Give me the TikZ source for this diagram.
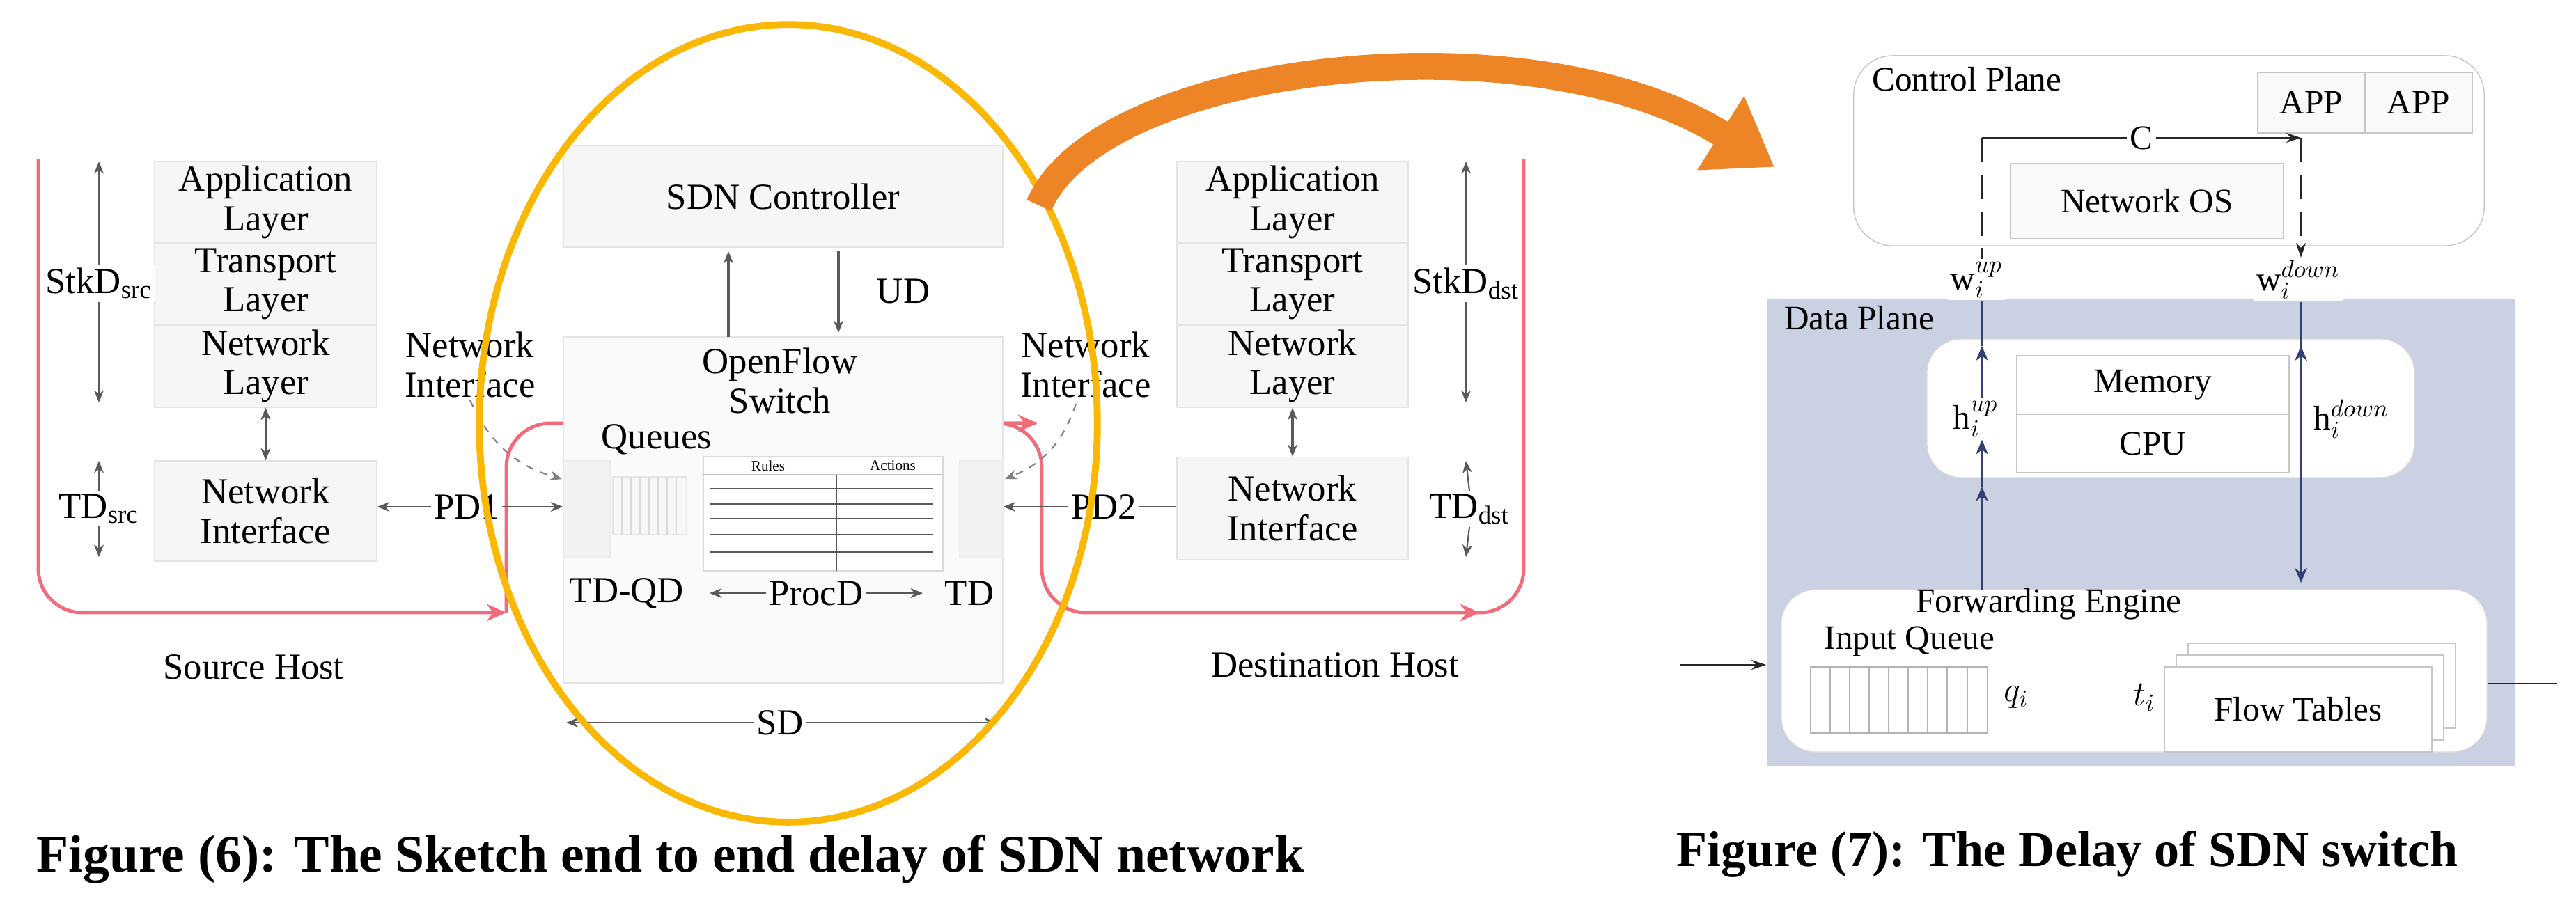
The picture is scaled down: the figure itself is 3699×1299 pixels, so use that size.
\documentclass[tikz,border=0pt]{standalone}
\usepackage{fontspec}
\setmainfont{Liberation Serif}
\usetikzlibrary{arrows.meta,shapes.geometric}
\definecolor{redc}{rgb}{0.95,0.42,0.48}
\definecolor{yelc}{rgb}{0.98,0.72,0.02}
\definecolor{orc}{rgb}{0.93,0.52,0.15}
\definecolor{dpc}{RGB}{201,209,226}
\definecolor{navc}{rgb}{0.2,0.25,0.45}
\newcommand\dfnt{\fontsize{15}{16}\selectfont}
\newcommand\rfnt{\fontsize{14}{15}\selectfont}
\newcommand\cfnt{\fontsize{21.5}{23}\selectfont\bfseries}
\newcommand\cfntb{\fontsize{20.5}{22}\selectfont\bfseries}
\begin{document}
\begin{tikzpicture}[x=0.01cm,y=-0.01cm,
  lbox/.style={draw=gray!22,fill=gray!7,inner sep=0,align=center,font=\dfnt},
  lab/.style={inner sep=1pt,align=center,font=\dfnt},
  rlab/.style={inner sep=1pt,align=center,font=\rfnt},
  ga/.style={draw=gray!70!black,line width=0.6pt,-{Stealth[length=5pt,width=4pt]}},
  gaa/.style={draw=gray!70!black,line width=0.6pt,{Stealth[length=5pt,width=4pt]}-{Stealth[length=5pt,width=4pt]}},
  red/.style={draw=redc,line width=1.4pt,rounded corners=18},
  rarr/.style={red,-{Stealth[length=8pt,width=7pt]}},
  na/.style={draw=navc,line width=1.1pt,-{Stealth[length=6pt,width=5pt]}},
  rbox/.style={draw=gray!45,fill=white,inner sep=0,align=center,font=\rfnt}]
\useasboundingbox (0,0) rectangle (3699,1299);
% ---------- red path
\draw[rarr] (55,229) -- (55,880) -- (727,880);
\draw[rarr] (727,880) -- (727,608) -- (1490,608);
\draw[rarr] (1488,608) -- (1496,608) -- (1496,880) -- (2125,880);
\draw[red] (2120,880) -- (2188,880) -- (2188,229);
% ---------- source host
\node[lbox,minimum width=3.19cm,minimum height=1.17cm] (app1) at (381.5,290.5) {Application\\Layer};
\node[lbox,minimum width=3.19cm,minimum height=1.18cm] (tr1) at (381.5,408) {Transport\\Layer};
\node[lbox,minimum width=3.19cm,minimum height=1.18cm] (nl1) at (381.5,526) {Network\\Layer};
\node[lbox,minimum width=3.19cm,minimum height=1.44cm] (ni1) at (381.5,734) {Network\\Interface};
\draw[gaa,line width=1pt] (nl1.south) -- (ni1.north);
\coordinate (s1a) at (142,232); \coordinate (s1b) at (142,578);
\node[lab,fill=white] (stk1) at (142,407) {StkD$_{\mathrm{src}}$};
\draw[ga] (stk1.north) -- (s1a); \draw[ga] (stk1.south) -- (s1b);
\coordinate (t1a) at (142,662); \coordinate (t1b) at (142,800);
\node[lab,fill=white] (td1) at (142,731) {TD$_{\mathrm{src}}$};
\draw[ga] (td1.north) -- (t1a); \draw[ga] (td1.south) -- (t1b);
\node[lab] (sh) at (364,958) {Source Host};
% ---------- destination host
\node[lbox,minimum width=3.32cm,minimum height=1.17cm] (app2) at (1856,290.5) {Application\\Layer};
\node[lbox,minimum width=3.32cm,minimum height=1.18cm] (tr2) at (1856,408) {Transport\\Layer};
\node[lbox,minimum width=3.32cm,minimum height=1.18cm] (nl2) at (1856,526) {Network\\Layer};
\node[lbox,minimum width=3.32cm,minimum height=1.47cm] (ni2) at (1856,730) {Network\\Interface};
\draw[gaa,line width=1pt] (nl2.south) -- (ni2.north);
\coordinate (s2a) at (2105,232); \coordinate (s2b) at (2105,578);
\node[lab,fill=white] (stk2) at (2105,407) {StkD$_{\mathrm{dst}}$};
\draw[ga] (stk2.north) -- (s2a); \draw[ga] (stk2.south) -- (s2b);
\coordinate (t2a) at (2105,662); \coordinate (t2b) at (2105,800);
\node[lab,fill=white] (td2) at (2110,731) {TD$_{\mathrm{dst}}$};
\draw[ga] (td2.north) -- (t2a); \draw[ga] (td2.south) -- (t2b);
\node[lab] (dh) at (1917,955) {Destination Host};
% ---------- switch
\node[lbox,minimum width=6.31cm,minimum height=1.46cm] (ctrl) at (1124.5,282) {SDN Controller};
\node[lbox,fill=gray!4,minimum width=6.31cm,minimum height=4.97cm] (sw) at (1124.5,732.5) {};
\node[lab] (ofs) at (1120,547) {OpenFlow\\Switch};
\coordinate (u1) at (1046,484); \coordinate (u2) at (1046,361);
\coordinate (d1) at (1204,361); \coordinate (d2) at (1204,478);
\draw[ga,line width=1pt] (u1) -- (u2);
\draw[ga,line width=1pt] (d1) -- (d2);
\node[lab] (ud) at (1297,418) {UD};
\node[lab] (qs) at (943,631) {Queues};
\node[draw=gray!15,fill=gray!10,minimum width=0.67cm,minimum height=1.38cm,inner sep=0] (lq) at (842.5,731) {};
\node[draw=gray!15,fill=gray!10,minimum width=0.62cm,minimum height=1.38cm,inner sep=0] (rq) at (1409,731) {};
\node[draw=gray!20,fill=gray!6,minimum width=1.06cm,minimum height=0.83cm,inner sep=0] (qc) at (933,726.5) {};
\foreach \x in {893,906,919,932,945,958,971} \draw[gray!30] (\x,685) -- (\x,768);
\node[draw=gray!30,fill=white,minimum width=3.44cm,minimum height=1.64cm,inner sep=0] (tbl) at (1182,738) {};
\node[font=\fontsize{6}{7}\selectfont] (rl) at (1103,669) {Rules};
\node[font=\fontsize{6}{7}\selectfont] (ac) at (1282,669) {Actions};
\draw[gray!50] (1010,682) -- (1354,682);
\draw[gray!70!black,line width=0.8pt] (1201,682) -- (1201,820);
\foreach \y in {702,724,745,768,793} \draw[gray!70!black,line width=0.7pt] (1020,\y) -- (1340,\y);
\node[lab] (tdqd) at (900,852) {TD-QD};
\node[lab] (pcd) at (1172,852) {ProcD};
\node[lab] (tdr) at (1392,852) {TD};
\coordinate (pa) at (1019,852); \coordinate (pb) at (1325,852);
\draw[ga] (pcd.west) -- (pa); \draw[ga] (pcd.east) -- (pb);
\coordinate (sda) at (813,1038); \coordinate (sdb) at (1431,1038);
\node[lab,fill=white] (sd) at (1120,1038) {SD};
\draw[ga] (sd.west) -- (sda); \draw[ga] (sd.east) -- (sdb);
\node[lab] (nil) at (675,524) {Network\\Interface};
\node[lab] (nir) at (1559,524) {Network\\Interface};
\coordinate (dl) at (807,688); \coordinate (dr) at (1443,688);
\draw[ga,dashed,gray] (nil.south) to[bend right=25] (dl);
\draw[ga,dashed,gray] (1545,580) to[bend left=25] (dr);
\node[lab] (pd1) at (670,728) {PD1};
\draw[ga] (pd1.west) -- (ni1.east |- pd1);
\draw[ga] (pd1.east) -- (lq.west |- pd1);
\node[lab] (pd2) at (1585,728) {PD2};
\draw[draw=gray!70!black,line width=0.6pt] (ni2.west |- pd2) -- (pd2.east);
\draw[ga] (pd2.west) -- (rq.east |- pd2);
% ellipse
\node[draw=yelc,line width=2.8pt,ellipse,minimum width=8.87cm,minimum height=11.45cm] (ell) at (1132,608) {};
% orange arrow
\coordinate (oa) at (1492,295); \coordinate (ob) at (2548,240);
\draw[orc,line width=11pt,-{Triangle[length=26pt,width=34pt]}] (oa) .. controls (1580,90) and (2200,20) .. (ob);
% ---------- right figure
\node[draw=gray!45,fill=white,rounded corners=16,minimum width=9.05cm,minimum height=2.73cm] (cp) at (3114.5,216.5) {};
\node[rlab,anchor=west] (cpl) at (2684,114) {Control Plane};
\node[rbox,fill=gray!5,minimum width=1.54cm,minimum height=0.87cm] (a1) at (3319,147.5) {APP};
\node[rbox,fill=gray!5,minimum width=1.54cm,minimum height=0.87cm] (a2) at (3473,147.5) {APP};
\node[rbox,fill=gray!4,minimum width=3.92cm,minimum height=1.08cm] (nos) at (3083,289) {Network OS};
\node[fill=dpc,minimum width=10.75cm,minimum height=6.7cm,inner sep=0] (dp) at (3074.5,765) {};
\node[rlab,anchor=west] (dpl) at (2558,457) {Data Plane};
\node[draw=gray!30,fill=white,rounded corners=14,minimum width=7cm,minimum height=1.99cm] (mc) at (3117,586.5) {};
\node[rbox,minimum width=3.91cm,minimum height=0.84cm] (mem) at (3091.5,553) {Memory};
\node[rbox,minimum width=3.91cm,minimum height=0.84cm] (cpu) at (3091.5,637) {CPU};
\node[draw=gray!30,fill=white,rounded corners=14,minimum width=10.13cm,minimum height=2.33cm] (fe) at (3064.5,963.5) {};
\node[rlab] (fel) at (2942,868) {Forwarding Engine};
\node[rlab] (iq) at (2742,921) {Input Queue};
\node[draw=gray!60,minimum width=2.54cm,minimum height=0.95cm,inner sep=0] (qq) at (2727,1005.5) {};
\foreach \x in {2628,2656,2684,2712,2740,2768,2796,2825} \draw[gray!60] (\x,958) -- (\x,1053);
\node[rlab] (qi) at (2895,1002) {$q_i$};
\node[rlab] (ti) at (3079,1002) {$t_i$};
\node[draw=gray!45,fill=white,minimum width=3.84cm,minimum height=1.22cm,inner sep=0] (ft3) at (3334,985) {};
\node[draw=gray!45,fill=white,minimum width=3.84cm,minimum height=1.22cm,inner sep=0] (ft2) at (3317,1002) {};
\node[rbox,minimum width=3.84cm,minimum height=1.22cm] (ft) at (3300,1019) {Flow Tables};
\coordinate (inp) at (2412,955); \coordinate (outp) at (3671,982);
\draw[draw=gray!30!black,line width=0.8pt,-{Stealth[length=6pt,width=4pt]}] (inp) -- (dp.west |- inp);
\draw[draw=gray!30!black,line width=0.8pt] (fe.east |- outp) -- (outp);
% C arrow and verticals
\coordinate (cl) at (2846,198); \coordinate (cr) at (3304,198);
\node[rlab,fill=white] (cc) at (3075,198) {C};
\draw[draw=gray!30!black,line width=0.8pt] (cl) -- (cc.west);
\draw[draw=gray!30!black,line width=0.8pt,-{Stealth[length=6pt,width=4pt]}] (cc.east) -- (cr);
\node[rlab,fill=white] (wu) at (2838,402) {w$_i^{up}$};
\node[rlab,fill=white] (wd) at (3300,402) {w$_i^{down}$};
\draw[draw=gray!30!black,line width=1pt,dash pattern=on 10pt off 5pt] (cl) -- (cl |- wu.north);
\draw[draw=gray!30!black,line width=1pt,dash pattern=on 10pt off 5pt,-{Stealth[length=6pt,width=4pt]}] (cr) -- (cr |- wd.north);
\node[rlab,fill=white] (hu) at (2837,602) {h$_i^{up}$};
\node[rlab,fill=white,anchor=west] (hd) at (3318,602) {h$_i^{down}$};
\coordinate (l0) at (2846,847); \coordinate (l1) at (2846,699); \coordinate (l2) at (2846,497);
\draw[na] (l0) -- (l1); \draw[na] (l1) -- (hu.south -| l1);
\draw[na] (hu.north -| l1) -- (l2); \draw[draw=navc,line width=1.1pt] (l2) -- (wu.south -| l2);
\coordinate (r0) at (3304,837); \coordinate (r2) at (3304,497);
\draw[na] (wd.south -| r0) -- (r0);
\draw[na] (3304,530) -- (r2);
% captions
\node[font=\cfnt,anchor=west,inner sep=0] (cap6) at (52,1234) {Figure (6): The Sketch end to end delay of SDN network};
\node[font=\cfntb,anchor=west,inner sep=0] (cap7) at (2407,1227) {Figure (7): The Delay of SDN switch};
\end{tikzpicture}
\end{document}
